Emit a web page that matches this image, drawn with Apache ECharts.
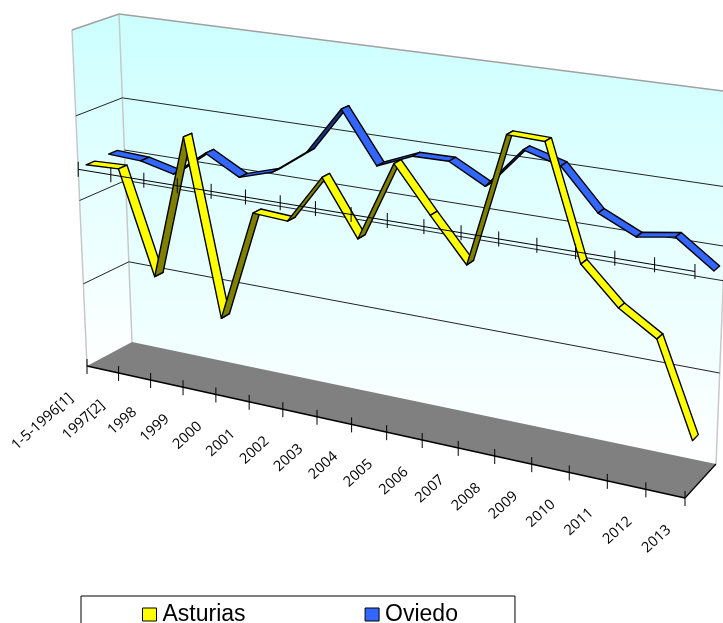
<!DOCTYPE html>
<html>
<head>
<meta charset="utf-8">
<style>html,body{margin:0;padding:0;background:#fff;overflow:hidden}#c{width:723px;height:623px}</style>
<script src="https://cdn.jsdelivr.net/npm/echarts@6/dist/echarts.min.js"></script>
</head>
<body>
<div id="c"></div>
<script>
const categories = ['1-5-1996[1]','1997[2]','1998','1999','2000','2001','2002','2003','2004','2005','2006','2007','2008','2009','2010','2011','2012','2013'];
const asturias = [47.7,48.0,23.8,57.9,17.0,42.9,42.4,53.6,41.1,59.1,49.0,39.5,68.9,68.6,43.9,36.0,30.9,11.0];
const oviedo = [48.0,47.6,45.7,51.9,47.5,50.0,55.8,66.7,55.1,58.5,58.6,54.3,63.5,61.2,52.3,48.5,49.8,44.0];
const gridValues = [20,40,60];
const axisCrossing = 47.4;

// Projection of the chart's box: the front and back faces of the 3D plot.
const box = {
  fbl:[87,366], ftl:[72,30], fbr:[685,498], ftr:[702,111],
  bbl:[132,342], btl:[119,14], bbr:[716,464], btr:[731,92]
};
const persX = 1.12, persY = 1.03;
const bend = (t, r) => t / (t + r * (1 - t));
const mix = (a, b, t) => [a[0] + (b[0] - a[0]) * t, a[1] + (b[1] - a[1]) * t];

function project(api, rect, cat, val, w) {
  const p = api.coord([cat, val]);
  const u = bend((p[0] - rect.x) / rect.width, persX);
  const v = bend(1 - (p[1] - rect.y) / rect.height, persY);
  const front = mix(mix(box.fbl, box.fbr, u), mix(box.ftl, box.ftr, u), v);
  const back = mix(mix(box.bbl, box.bbr, u), mix(box.btl, box.btr, u), v);
  return mix(front, back, w);
}
const last = categories.length - 1;
const maxV = 80;
const wallFill = () => new echarts.graphic.LinearGradient(0, 0, 0, 1, [
  {offset: 0, color: '#CCFFFF'}, {offset: 1, color: '#FFFFFF'}
]);
const line = (a, b, stroke, width) => ({
  type: 'line', shape: {x1: a[0], y1: a[1], x2: b[0], y2: b[1]},
  style: {stroke, lineWidth: width, fill: null}, silent: true
});
const poly = (points, fill, stroke, lw) => ({
  type: 'polygon', shape: {points},
  style: {fill, stroke: stroke || null, lineWidth: lw || 0, lineJoin: 'round'}, silent: true
});

function renderWalls(params, api) {
  const rect = params.coordSys;
  const P = (c, v, w) => project(api, rect, c, v, w);
  const ch = [];
  ch.push(poly([P(0,0,0), P(0,maxV,0), P(0,maxV,1), P(0,0,1)], wallFill()));
  ch.push(poly([P(0,0,1), P(0,maxV,1), P(last,maxV,1), P(last,0,1)], wallFill()));
  ch.push(poly([P(0,0,0), P(0,0,1), P(last,0,1), P(last,0,0)], '#808080'));
  ch.push(line(P(0,0,0), P(0,maxV,0), '#C8C8C8', 1.5));
  ch.push(line(P(0,0,1), P(0,maxV,1), '#C8C8C8', 1.5));
  ch.push(line(P(0,maxV,0), P(0,maxV,1), '#A0A0A0', 1.5));
  ch.push(line(P(0,maxV,1), P(last,maxV,1), '#A0A0A0', 1.5));
  ch.push(line(P(last,0,1), P(last,maxV,1), '#C8C8C8', 1.5));
  gridValues.forEach(g => {
    ch.push(line(P(0,g,0), P(0,g,1), '#222', 1));
    ch.push(line(P(0,g,1), P(last,g,1), '#222', 1));
  });
  ch.push(line(P(0,axisCrossing,1), P(last,axisCrossing,1), '#222', 1));
  ch.push(line(P(0,0,0), P(last,0,0), '#000', 1.5));
  ch.push(line(P(last,0,0), P(last,0,1), '#000', 1.2));
  categories.forEach((c, i) => {
    const t = P(i,0,0);
    ch.push(line([t[0], t[1]-7], [t[0], t[1]+8], '#000', 1));
    ch.push({
      type: 'text', x: t[0]-16, y: t[1]+30, rotation: 42 * Math.PI / 180, silent: true,
      style: {text: c, align: 'right', verticalAlign: 'middle', fill: '#000',
              font: '14.5px "Open Sans"'}
    });
  });
  return {type: 'group', children: ch};
}

function ribbon(values, w0, w1, top, under) {
  return function (params, api) {
    const i = api.value(0);
    if (i >= last) return null;
    const rect = params.coordSys;
    const a = project(api, rect, i, values[i], w0);
    const b = project(api, rect, i + 1, values[i + 1], w0);
    const c = project(api, rect, i + 1, values[i + 1], w1);
    const d = project(api, rect, i, values[i], w1);
    const dx = b[0] - a[0], dy = b[1] - a[1], Dx = d[0] - a[0], Dy = d[1] - a[1];
    const fill = Dx * dy - Dy * dx >= 0 ? top : under;
    return poly([a, b, c, d], fill, '#000', 1.4);
  };
}

function renderAxis(params, api) {
  const rect = params.coordSys;
  const P = (c, v, w) => project(api, rect, c, v, w);
  const ch = [line(P(0,axisCrossing,0), P(last,axisCrossing,0), '#000', 1)];
  categories.forEach((c, i) => {
    const t = P(i,axisCrossing,0);
    ch.push(line([t[0], t[1]-7.5], [t[0], t[1]+7.5], '#000', 1));
  });
  return {type: 'group', children: ch};
}

const toData = arr => arr.map((v, i) => [i, v]);

const chart = echarts.init(document.getElementById('c'), null, {renderer: 'canvas'});
chart.setOption({
  animation: false,
  backgroundColor: '#fff',
  grid: {left: 0, right: 0, top: 0, bottom: 0},
  xAxis: {type: 'category', data: categories, boundaryGap: false, show: false},
  yAxis: {type: 'value', min: 0, max: maxV, interval: 20, show: false},
  legend: {
    left: 81, top: 596, orient: 'horizontal',
    data: ['Asturias', 'Oviedo'],
    icon: 'rect', itemWidth: 14, itemHeight: 13, itemGap: 119,
    padding: [7, 57, 10, 61], backgroundColor: '#fff',
    borderColor: '#000', borderWidth: 1,
    itemStyle: {borderColor: '#000', borderWidth: 1},
    textStyle: {fontFamily: '"Liberation Sans"', fontSize: 23, color: '#000', padding: [0,0,0,1]},
    selectedMode: false
  },
  tooltip: {show: false},
  series: [
    {type: 'custom', name: 'walls', data: [[0, 0]], encode: {x: 0, y: 1}, renderItem: renderWalls, silent: true},
    {type: 'custom', name: 'Oviedo', data: toData(oviedo), encode: {x: 0, y: 1},
     itemStyle: {color: '#3366FF'}, renderItem: ribbon(oviedo, 0.66, 0.85, '#3366FF', '#1A3380'), silent: true},
    {type: 'custom', name: 'Asturias', data: toData(asturias), encode: {x: 0, y: 1},
     itemStyle: {color: '#FFFF00'}, renderItem: ribbon(asturias, 0.17, 0.36, '#FFFF00', '#808000'), silent: true},
    {type: 'custom', name: 'axis', data: [[0, axisCrossing]], encode: {x: 0, y: 1}, renderItem: renderAxis, silent: true}
  ]
});
</script>
</body>
</html>
